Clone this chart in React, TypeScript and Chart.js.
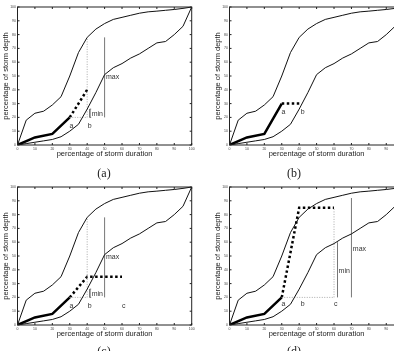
import React, { useEffect, useRef } from "react";
import { Chart, registerables } from "chart.js";

Chart.register(...registerables);

// Envelope of dimensionless storm mass curves (percent of duration vs percent of depth)
const durationPct = [0, 5, 10, 15, 20, 25, 30, 35, 40, 45, 50, 55, 60, 65, 70, 75, 80, 85, 90, 95, 100];
const upperEnvelope = [0, 18, 23, 24.5, 29, 35, 50, 67, 78, 84, 88, 91, 92.5, 94, 95.5, 96.5, 97, 97.6, 98.2, 99, 100];
const lowerEnvelope = [0, 1, 2, 3, 4, 6, 10, 15, 26, 38, 51, 56, 59, 63, 66, 70, 74, 75, 80, 86, 100];

// Observed part of the storm, up to 30 % of the duration
const observedA: [number, number][] = [[0, 0], [10, 5.5], [20, 8], [30, 20]];
const observedB: [number, number][] = [[0, 0], [10, 5.5], [20, 8], [30, 30]];

// Forecast continuations of the mass curve
const forecastA: [number, number][] = [[30, 20], [40, 40]];
const forecastB: [number, number][] = [[30, 30], [41, 30]];
const forecastC: [number, number][] = [[30, 20], [40, 35], [60, 35]];
const forecastD: [number, number][] = [[30, 20], [40, 85], [60, 85]];

// Dotted guides
const guideStepAC: [number, number][] = [[30, 20], [40, 20]];
const guideRiseAC: [number, number][] = [[40, 20], [40, 78]];
const guideStepD: [number, number][] = [[30, 20], [60, 20]];
const guideRiseD: [number, number][] = [[60, 20], [60, 85]];

// Range bars for the remaining depth
const minBracketAC: [number, number][] = [[42.3, 26], [41.5, 26], [41.5, 20], [42.3, 20]];
const maxBarAC: [number, number][] = [[50, 20], [50, 78]];
const minBarD: [number, number][] = [[62, 20], [62, 60]];
const maxBarD: [number, number][] = [[70, 20], [70, 92]];

// Annotations: text, x, y, alignment
type Note = [string, number, number, "left" | "center"];
const notesA: Note[] = [["a", 31, 14, "center"], ["b", 41.5, 14, "center"], ["max", 50.8, 49, "left"], ["min", 42.6, 22.5, "left"]];
const notesB: Note[] = [["a", 31, 24, "center"], ["b", 42, 24, "center"]];
const notesC: Note[] = [["a", 31, 14, "center"], ["b", 41.5, 14, "center"], ["c", 61, 14, "center"], ["max", 50.8, 49, "left"], ["min", 42.6, 22.5, "left"]];
const notesD: Note[] = [["a", 31, 15, "center"], ["b", 42, 15, "center"], ["c", 61, 15, "center"], ["min", 62.6, 39, "left"], ["max", 70.8, 55, "left"]];

const SANS = "'Liberation Sans', Arial, sans-serif";

type Seg = [number, number][];
interface PanelSpec {
  observed: Seg;
  forecast: Seg;
  guides: Seg[];
  bars: Seg[];
  notes: Note[];
}

const panels: { spec: PanelSpec; left: number; top: number; caption: string; capX: number; capY: number }[] = [
  { spec: { observed: observedA, forecast: forecastA, guides: [guideStepAC, guideRiseAC], bars: [minBracketAC, maxBarAC], notes: notesA }, left: 0, top: 0, caption: "(a)", capX: 104, capY: 173 },
  { spec: { observed: observedB, forecast: forecastB, guides: [], bars: [], notes: notesB }, left: 211.5, top: 0, caption: "(b)", capX: 294, capY: 173 },
  { spec: { observed: observedA, forecast: forecastC, guides: [guideStepAC, guideRiseAC], bars: [minBracketAC, maxBarAC], notes: notesC }, left: 0, top: 179.5, caption: "(c)", capX: 104, capY: 351 },
  { spec: { observed: observedA, forecast: forecastD, guides: [guideStepD, guideRiseD], bars: [minBarD, maxBarD], notes: notesD }, left: 211.5, top: 179.5, caption: "(d)", capX: 294, capY: 351 },
];

const CANVAS_W = 197;
const CANVAS_H = 160;

// Box around the plot with short inward tick marks on every side
const framePlugin = {
  id: "frame",
  afterDatasetsDraw(chart: any) {
    const { ctx, chartArea } = chart;
    const { left, right, top, bottom } = chartArea;
    const xs = chart.scales.x;
    const ys = chart.scales.y;
    ctx.save();
    ctx.strokeStyle = "#222";
    ctx.lineWidth = 1;
    ctx.strokeRect(left, top, right - left, bottom - top);
    const len = 2;
    ctx.beginPath();
    xs.ticks.forEach((t: any) => {
      const px = xs.getPixelForValue(t.value);
      ctx.moveTo(px, bottom);
      ctx.lineTo(px, bottom - len);
      ctx.moveTo(px, top);
      ctx.lineTo(px, top + len);
    });
    ys.ticks.forEach((t: any) => {
      const py = ys.getPixelForValue(t.value);
      ctx.moveTo(left, py);
      ctx.lineTo(left + len, py);
      ctx.moveTo(right, py);
      ctx.lineTo(right - len, py);
    });
    ctx.stroke();
    ctx.restore();
  },
};

function notesPlugin(notes: Note[]) {
  return {
    id: "notes",
    afterDatasetsDraw(chart: any) {
      const { ctx } = chart;
      const xs = chart.scales.x;
      const ys = chart.scales.y;
      ctx.save();
      ctx.fillStyle = "#333";
      ctx.font = `7px ${SANS}`;
      ctx.textBaseline = "middle";
      notes.forEach(([text, x, y, align]) => {
        ctx.textAlign = align;
        ctx.fillText(text, xs.getPixelForValue(x), ys.getPixelForValue(y));
      });
      ctx.restore();
    },
  };
}

function buildChart(canvas: HTMLCanvasElement, spec: PanelSpec) {
  const toXY = (s: Seg) => s.map(([x, y]) => ({ x, y }));
  const envelope = (ys: number[]) => durationPct.map((x, i) => ({ x, y: ys[i] }));
  const base = { pointRadius: 0, fill: false, tension: 0 };
  const datasets: any[] = [
    { ...base, data: envelope(upperEnvelope), borderColor: "#111", borderWidth: 1 },
    { ...base, data: envelope(lowerEnvelope), borderColor: "#111", borderWidth: 1 },
    ...spec.guides.map((g) => ({ ...base, data: toXY(g), borderColor: "#aaa", borderWidth: 1, borderDash: [1, 1.5] })),
    ...spec.bars.map((b) => ({ ...base, data: toXY(b), borderColor: "#777", borderWidth: 1 })),
    { ...base, data: toXY(spec.observed), borderColor: "#000", borderWidth: 2.5 },
    { ...base, data: toXY(spec.forecast), borderColor: "#000", borderWidth: 2.5, borderDash: [2.5, 2.5] },
  ];

  const tickFont = { size: 3.5, family: SANS };
  const titleFont = { size: 7.5, family: SANS };

  return new Chart(canvas, {
    type: "line",
    data: { datasets },
    options: {
      animation: false,
      responsive: false,
      events: [],
      layout: { padding: { top: 7, right: 5.3, left: 0, bottom: 0 } },
      plugins: { legend: { display: false }, tooltip: { enabled: false } },
      scales: {
        x: {
          type: "linear",
          min: 0,
          max: 100,
          grid: { display: false, drawTicks: false },
          border: { display: false },
          ticks: { stepSize: 10, font: tickFont, color: "#444", padding: 2, maxRotation: 0, autoSkip: false },
          title: { display: true, text: "percentage of storm duration", font: titleFont, color: "#222", padding: { top: 0, bottom: 1.5 } },
          afterFit: (s: any) => {
            s.height = 15;
          },
        },
        y: {
          type: "linear",
          min: 0,
          max: 100,
          grid: { display: false, drawTicks: false },
          border: { display: false },
          ticks: { stepSize: 10, font: tickFont, color: "#444", padding: 1.5, autoSkip: false },
          title: { display: true, text: "percentage of storm depth", font: titleFont, color: "#222", padding: { top: 1, bottom: 0 } },
          afterFit: (s: any) => {
            s.width = 17.5;
          },
        },
      },
    } as any,
    plugins: [framePlugin, notesPlugin(spec.notes)],
  });
}

function Panel({ spec, left, top }: { spec: PanelSpec; left: number; top: number }) {
  const ref = useRef<HTMLCanvasElement>(null);
  useEffect(() => {
    if (!ref.current) return;
    const chart = buildChart(ref.current, spec);
    return () => chart.destroy();
  }, [spec]);
  return (
    <canvas
      ref={ref}
      width={CANVAS_W}
      height={CANVAS_H}
      style={{ position: "absolute", left, top, width: CANVAS_W, height: CANVAS_H }}
    />
  );
}

export default function App() {
  return (
    <div
      style={{
        position: "fixed",
        left: 0,
        top: 0,
        width: 394,
        height: 351,
        overflow: "hidden",
        background: "#fff",
      }}
    >
      {panels.map((p) => (
        <React.Fragment key={p.caption}>
          <Panel spec={p.spec} left={p.left} top={p.top} />
          <div
            style={{
              position: "absolute",
              left: p.capX - 20,
              top: p.capY - 8,
              width: 40,
              height: 16,
              lineHeight: "16px",
              textAlign: "center",
              fontFamily: "'Liberation Serif', 'Times New Roman', serif",
              fontSize: 12,
              color: "#222",
              willChange: "transform",
            }}
          >
            {p.caption}
          </div>
        </React.Fragment>
      ))}
    </div>
  );
}
